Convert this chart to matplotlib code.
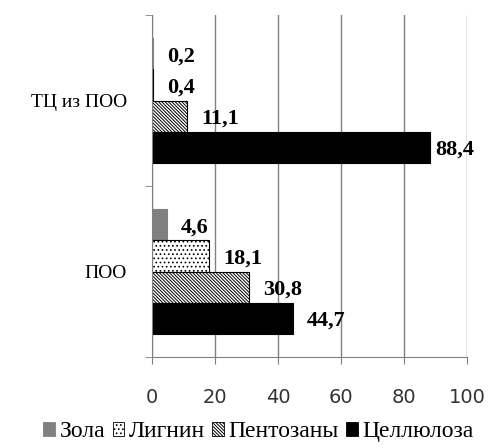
import matplotlib
matplotlib.use("Agg")
import matplotlib.pyplot as plt
from matplotlib.patches import Patch
from matplotlib.font_manager import FontProperties

# Данные (в %)
categories = ["ПОО", "ТЦ из ПОО"]
series = ["Зола", "Лигнин", "Пентозаны", "Целлюлоза"]
zola = [4.6, 0.2]
lignin = [18.1, 0.4]
pentozany = [30.8, 11.1]
cellulose = [44.7, 88.4]
xticks = [0, 20, 40, 60, 80, 100]

values = [zola, lignin, pentozany, cellulose]
colors = ["#808080", "white", "white", "black"]
edges = ["#808080", "black", "black", "black"]
hatches = [None, "....", "\\" * 10, None]
offsets = [1.5, 0.5, -0.5, -1.5]
h = 0.183

plt.rcParams["hatch.linewidth"] = 0.7
serif = ["Liberation Serif", "DejaVu Serif"]

fig = plt.figure(figsize=(4.88, 4.48), dpi=100)
ax = fig.add_axes([0.3115, 0.2031, 0.6455, 0.7634])

for vals, col, ec, hat, off in zip(values, colors, edges, hatches, offsets):
    for i, v in enumerate(vals):
        y = i + off * h
        ax.barh(y, v, height=h, color=col, edgecolor=ec, hatch=hat, linewidth=0.8)
        dx = 1.5 if v > 80 else 4.5
        ax.text(v + dx, y - 0.015, f"{v:.1f}".replace(".", ","), va="center", ha="left",
                fontsize=16, fontweight="bold", family=serif)

ax.set_xlim(0, 100)
ax.set_ylim(-0.5, 1.5)
ax.set_xticks(xticks)
ax.set_xticklabels([str(t) for t in xticks], fontsize=14, color="#333333")
ax.set_yticks([0, 1])
ax.set_yticklabels(categories, family=serif, fontsize=14)
ax.set_yticks([-0.5, 0.5, 1.5], minor=True)
ax.tick_params(axis="y", which="major", length=0, pad=18)
ax.tick_params(axis="y", which="minor", length=5, color="#808080")
ax.tick_params(axis="x", length=5, color="#808080", pad=17)
ax.grid(axis="x", color="#808080", linewidth=1)
ax.set_axisbelow(True)
for s in ["top", "right"]:
    ax.spines[s].set_visible(False)
for s in ["left", "bottom"]:
    ax.spines[s].set_color("#808080")

handles = [Patch(facecolor=c, edgecolor=e, hatch=ht, linewidth=0.6)
           for c, e, ht in zip(colors, edges, hatches)]
leg_font = FontProperties(family=serif, size=17)
fig.legend(handles, series, loc="center", bbox_to_anchor=(0.53, 0.036), ncol=4,
           frameon=False, prop=leg_font, handlelength=0.5,
           handleheight=0.5, handletextpad=0.2, columnspacing=0.3)

fig.savefig("out.png", dpi=100)
